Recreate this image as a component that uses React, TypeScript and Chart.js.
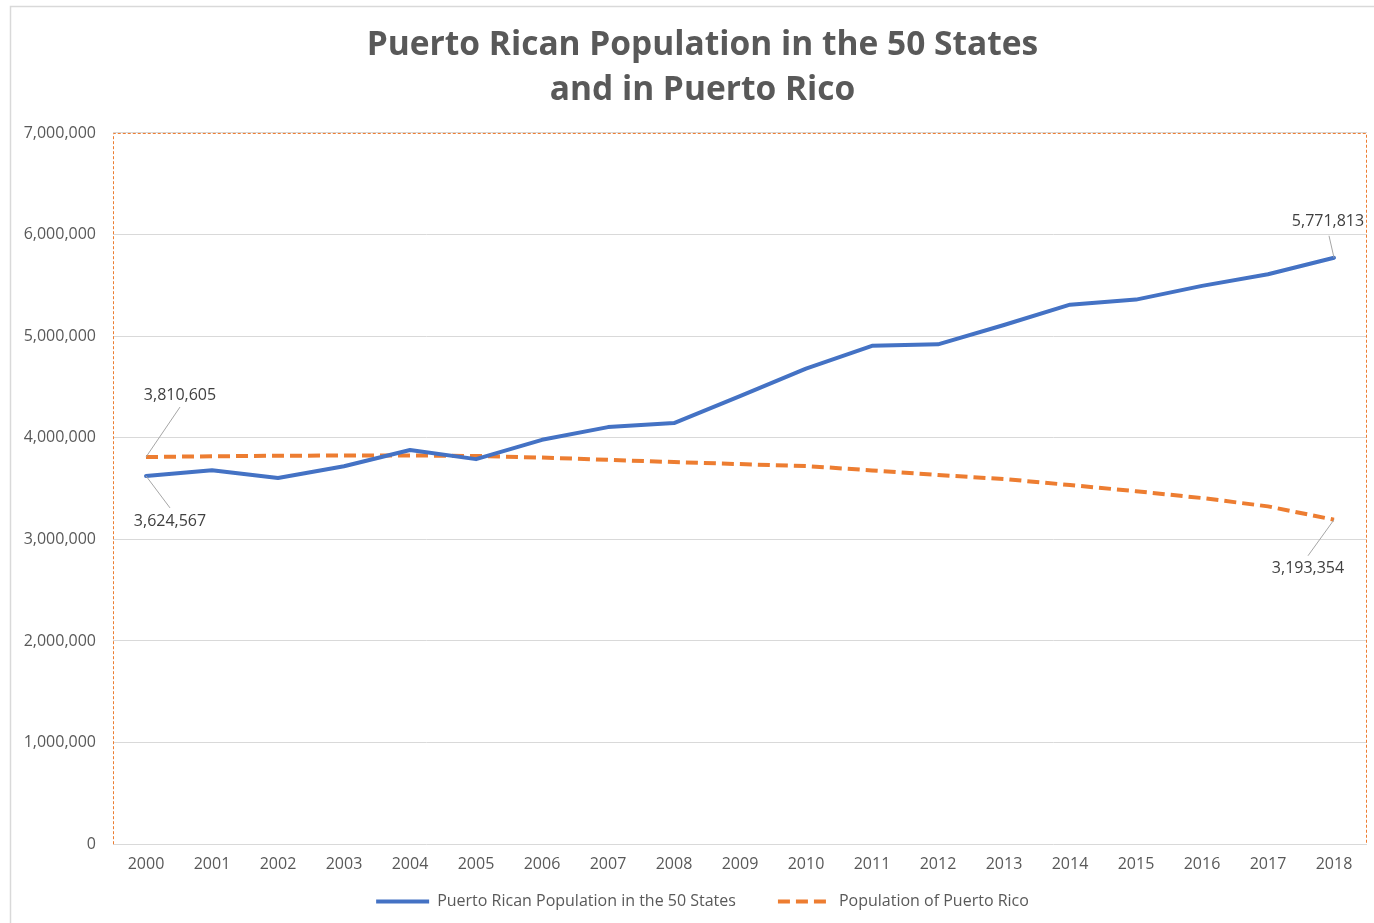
import React, { useEffect, useRef } from "react";
import { Chart, registerables } from "chart.js";

Chart.register(...registerables);

const years = [
  "2000", "2001", "2002", "2003", "2004", "2005", "2006", "2007", "2008", "2009",
  "2010", "2011", "2012", "2013", "2014", "2015", "2016", "2017", "2018",
];

const statesPop = [
  3624567, 3680000, 3605000, 3720000, 3880000, 3790000, 3980000, 4105000, 4145000, 4410000,
  4680000, 4905000, 4920000, 5110000, 5310000, 5360000, 5495000, 5610000, 5771813,
];

const prPop = [
  3810605, 3818000, 3823000, 3826000, 3826000, 3821000, 3805000, 3783000, 3761000, 3741000,
  3722000, 3679000, 3634000, 3594000, 3535000, 3474000, 3407000, 3325000, 3193354,
];

const titleLines = ["Puerto Rican Population in the 50 States", "and in Puerto Rico"];
const seriesNames = ["Puerto Rican Population in the 50 States", "Population of Puerto Rico"];

const FONT = "'Open Sans', 'Noto Sans', sans-serif";
const TEXT = "#595959";

const fmt = (v: number) => Math.round(v).toLocaleString("en-US");

// callouts: dataset index, point index, text offset and leader end offset (style only)
const callouts = [
  { ds: 0, idx: 0, dx: 24, dy: 46, lx: 24, ly: 32 },
  { ds: 1, idx: 0, dx: 34, dy: -62, lx: 34, ly: -50 },
  { ds: 0, idx: years.length - 1, dx: -6, dy: -36, lx: -5, ly: -22 },
  { ds: 1, idx: years.length - 1, dx: -26, dy: 49, lx: -26, ly: 36 },
];

const noClip = () => undefined;

const decorPlugin = {
  id: "decor",
  beforeDraw(chart: any) {
    const ctx = chart.ctx;
    ctx.save();
    ctx.fillStyle = "#ffffff";
    ctx.fillRect(0, 0, chart.width, chart.height);
    ctx.strokeStyle = "#d9d9d9";
    ctx.lineWidth = 1.5;
    ctx.beginPath();
    ctx.moveTo(10.5, chart.height);
    ctx.lineTo(10.5, 6.5);
    ctx.lineTo(chart.width, 6.5);
    ctx.stroke();
    ctx.restore();
  },
  beforeDatasetsDraw(chart: any) {
    const { left, top, right, bottom } = chart.chartArea;
    const ctx = chart.ctx;
    ctx.save();
    ctx.strokeStyle = "#ED7D31";
    ctx.lineWidth = 1;
    ctx.setLineDash([3, 2]);
    ctx.beginPath();
    ctx.moveTo(left + 0.5, bottom);
    ctx.lineTo(left + 0.5, top + 0.5);
    ctx.lineTo(right - 0.5, top + 0.5);
    ctx.lineTo(right - 0.5, bottom);
    ctx.stroke();
    ctx.restore();
  },
  afterDatasetsDraw(chart: any) {
    const ctx = chart.ctx;
    ctx.save();
    ctx.font = `16px ${FONT}`;
    ctx.textAlign = "center";
    ctx.textBaseline = "middle";
    for (const c of callouts) {
      const pt = chart.getDatasetMeta(c.ds).data[c.idx];
      const value = chart.data.datasets[c.ds].data[c.idx] as number;
      ctx.strokeStyle = "#a6a6a6";
      ctx.lineWidth = 1;
      ctx.beginPath();
      ctx.moveTo(pt.x, pt.y);
      ctx.lineTo(pt.x + c.lx, pt.y + c.ly);
      ctx.stroke();
      ctx.fillStyle = "#404040";
      ctx.fillText(fmt(value), pt.x + c.dx, pt.y + c.dy);
    }
    ctx.restore();
  },
};

export default function App() {
  const ref = useRef<HTMLCanvasElement | null>(null);

  useEffect(() => {
    document.body.style.margin = "0";
    const canvas = ref.current!;
    const chart = new Chart(canvas, {
      type: "line",
      data: {
        labels: years,
        datasets: [
          {
            label: seriesNames[0],
            data: statesPop,
            borderColor: "#4472C4",
            backgroundColor: "#4472C4",
            borderWidth: 4,
            pointRadius: 0,
            tension: 0,
            borderCapStyle: "round",
            borderJoinStyle: "round",
          },
          {
            label: seriesNames[1],
            data: prPop,
            borderColor: "#ED7D31",
            backgroundColor: "#ED7D31",
            borderWidth: 4,
            borderDash: [12, 6],
            pointRadius: 0,
            tension: 0,
          },
        ],
      },
      options: {
        responsive: false,
        animation: false,
        devicePixelRatio: 1,
        layout: { padding: { left: 38, right: 7, top: 0, bottom: 3.4 } },
        font: { family: FONT },
        plugins: {
          title: {
            display: true,
            text: titleLines,
            color: TEXT,
            font: { family: FONT, size: 33.5, weight: "bold", lineHeight: 1.34 },
            padding: { top: 23, bottom: 20.2 },
          },
          legend: {
            position: "bottom",
            labels: {
              color: TEXT,
              font: { family: FONT, size: 16 },
              usePointStyle: true,
              pointStyle: "line",
              pointStyleWidth: 53,
              boxHeight: 4,
              padding: 42,
              generateLabels: (ch: any) => {
                const items = Chart.defaults.plugins.legend.labels.generateLabels(ch);
                return items.map((it: any) => {
                  const ds: any = ch.data.datasets[it.datasetIndex];
                  return {
                    ...it,
                    pointStyle: "line",
                    strokeStyle: ds.borderColor,
                    fillStyle: ds.borderColor,
                    lineWidth: 4,
                    lineDash: ds.borderDash || [],
                    lineCap: "butt",
                  };
                });
              },
            },
          },
          tooltip: { enabled: false },
        },
        scales: {
          x: {
            offset: true,
            grid: { display: false, drawTicks: false },
            border: { display: false },
            ticks: { color: TEXT, font: { family: FONT, size: 16 }, padding: 11, maxRotation: 0, autoSkip: false },
            afterFit: (s: any) => { s.height = 7.4; s._computeLabelArea = noClip; },
          },
          y: {
            min: 0,
            max: 7000000,
            grid: { color: "#d9d9d9", drawTicks: false, lineWidth: 1 },
            border: { display: false },
            ticks: {
              stepSize: 1000000,
              color: TEXT,
              font: { family: FONT, size: 16 },
              padding: 17,
              callback: (v: any) => fmt(Number(v)),
            },
            afterFit: (s: any) => { s.width = 75; s._computeLabelArea = noClip; },
          },
        },
      },
      plugins: [decorPlugin],
    });
    return () => chart.destroy();
  }, []);

  return (
    <div style={{ position: "absolute", left: 0, top: 0, width: 1374, height: 923, background: "#fff" }}>
      <canvas ref={ref} width={1374} height={923} style={{ width: 1374, height: 923, display: "block" }} />
    </div>
  );
}
